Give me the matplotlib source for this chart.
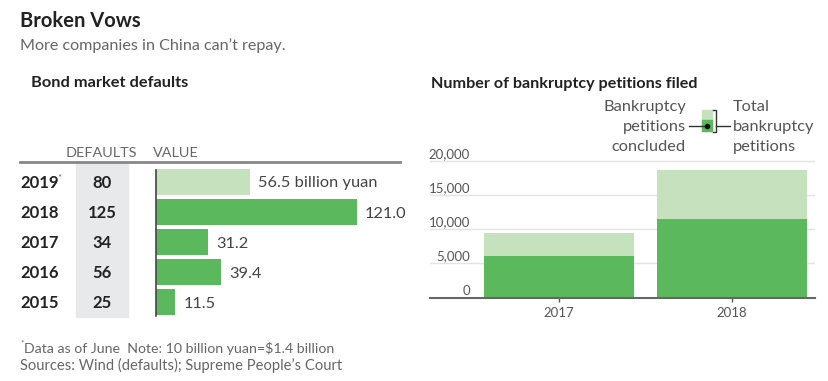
import matplotlib.pyplot as plt
import matplotlib.transforms as mtransforms
from matplotlib.lines import Line2D
from matplotlib.patches import Rectangle

plt.rcParams['font.family'] = ['Lato', 'DejaVu Sans']

# bond market defaults
years = ['2019', '2018', '2017', '2016', '2015']
defaults = [80, 125, 34, 56, 25]
values = [56.5, 121.0, 31.2, 39.4, 11.5]
value_labels = ['56.5 billion yuan', '121.0', '31.2', '39.4', '11.5']

# bankruptcy petitions
pet_years = ['2017', '2018']
pet_total = [9500, 18750]
pet_concluded = [6100, 11500]
pet_ticks = [0, 5000, 10000, 15000, 20000]

dark = '#5cb85c'
light = '#c5e1bd'
txt = '#222222'
grey = '#666666'

W, H = 829, 381
fig = plt.figure(figsize=(W / 100, H / 100), dpi=100)


def fx(x):
    return x / W


def fy(y):
    return 1 - y / H


# titles
fig.text(fx(20), fy(27), 'Broken Vows', fontsize=14.5, fontweight='bold', color=txt, va='baseline')
fig.text(fx(20), fy(50), 'More companies in China can\u2019t repay.', fontsize=11.6, color=grey, va='baseline')
fig.text(fx(31), fy(87), 'Bond market defaults', fontsize=11.8, fontweight='bold', color=txt, va='baseline')
fig.text(fx(431), fy(88), 'Number of bankruptcy petitions filed', fontsize=11.6, fontweight='bold', color=txt, va='baseline')

# ---- left: table + bars ----
ax1 = fig.add_axes([fx(156), fy(317), (405 - 156) / W, (317 - 164) / H])
rows = list(range(len(years)))
bar_colors = [light] + [dark] * (len(years) - 1)
ax1.barh(rows, values, height=0.87, color=bar_colors)
ax1.set_xlim(0, 150)
ax1.set_ylim(4.5, -0.6)
for s in ['top', 'right', 'bottom']:
    ax1.spines[s].set_visible(False)
ax1.spines['left'].set_bounds(-0.4, 4.45)
ax1.spines['left'].set_color('#444444')
ax1.spines['left'].set_linewidth(1.2)
ax1.set_xticks([])
ax1.set_yticks([])
ax1.patch.set_visible(False)

for i, (v, lbl) in enumerate(zip(values, value_labels)):
    ax1.annotate(lbl, (v, i), xytext=(6, 0), textcoords='offset points',
                 ha='left', va='center_baseline', fontsize=11.8, color='#444444')

# grey column behind defaults
fig.add_artist(Rectangle((fx(76), fy(317)), (128 - 76) / W, (317 - 162) / H,
                         transform=fig.transFigure, color='#e8e9eb', zorder=0))
fig.add_artist(Line2D([fx(20), fx(400)], [fy(162), fy(162)], transform=fig.transFigure,
                      color='#888888', lw=2))
fig.text(fx(101), fy(157), 'DEFAULTS', fontsize=10.4, color=grey, ha='center', va='baseline')
fig.text(fx(153), fy(157), 'VALUE', fontsize=10.4, color=grey, ha='left', va='baseline')

row_tr = mtransforms.blended_transform_factory(fig.transFigure, ax1.transData)
for i, (yr, d) in enumerate(zip(years, defaults)):
    fig.text(fx(20), i, yr, transform=row_tr, fontsize=12, fontweight='bold',
             color=txt, ha='left', va='center_baseline')
    fig.text(fx(102), i, str(d), transform=row_tr, fontsize=12, fontweight='bold',
             color=txt, ha='center', va='center_baseline')
fig.text(fx(57), fy(174), '*', fontsize=7, color=grey, ha='left', va='top')

# footnotes
fig.text(fx(20), fy(346), '*', fontsize=6, color=grey, va='baseline')
fig.text(fx(24), fy(353), 'Data as of June  Note: 10 billion yuan=$1.4 billion', fontsize=10.2,
         color=grey, va='baseline')
fig.text(fx(20), fy(370), 'Sources: Wind (defaults); Supreme People\u2019s Court', fontsize=10.6,
         color=grey, va='baseline')

# ---- right: petitions ----
ax2 = fig.add_axes([fx(430), fy(297.5), (815 - 430) / W, (297.5 - 157.6) / H])
xs = list(range(len(pet_years)))
ax2.bar(xs, pet_total, width=0.867, color=light, zorder=2)
ax2.bar(xs, pet_concluded, width=0.867, color=dark, zorder=3)
ax2.set_xlim(-0.746, 1.48)
ax2.set_ylim(0, 20500)
ax2.set_yticks(pet_ticks)
ax2.set_yticklabels([])
ax2.tick_params(axis='y', length=0)
ax2.grid(axis='y', color='#e4e4e4', lw=1, zorder=0)
ax2.set_axisbelow(True)
for s in ['top', 'right', 'left']:
    ax2.spines[s].set_visible(False)
ax2.spines['bottom'].set_color('#666666')
ax2.spines['bottom'].set_linewidth(1.5)
ax2.spines['bottom'].set_zorder(4)
ax2.set_xticks(xs, pet_years)
ax2.tick_params(axis='x', length=3, width=1, color='#555555', labelsize=9.5,
                labelcolor='#555555', pad=4)

lab_tr = mtransforms.blended_transform_factory(ax2.transAxes, ax2.transData)
for t in pet_ticks:
    ax2.annotate(f'{t:,}', (0.104, t), xycoords=lab_tr, xytext=(0, 5), textcoords='offset points',
                 ha='right', va='center', fontsize=9.5, color='#555555')

# legend
fig.add_artist(Rectangle((fx(702), fy(131)), 10 / W, 21 / H, transform=fig.transFigure,
                         color=light, zorder=2))
fig.add_artist(Rectangle((fx(702), fy(131)), 10 / W, 11 / H, transform=fig.transFigure,
                         color=dark, zorder=3))
fig.add_artist(Line2D([fx(689), fx(707)], [fy(126), fy(126)], transform=fig.transFigure,
                      color='#333333', lw=1, zorder=4))
fig.add_artist(Line2D([fx(707)], [fy(126)], transform=fig.transFigure, marker='o',
                      markersize=3, color='#111111', zorder=5))
fig.add_artist(Line2D([fx(713), fx(716), fx(716), fx(713)], [fy(110), fy(110), fy(132), fy(132)],
                      transform=fig.transFigure, color='#333333', lw=1))
fig.add_artist(Line2D([fx(716), fx(730)], [fy(126), fy(126)], transform=fig.transFigure,
                      color='#333333', lw=1))
for k, line in enumerate(['Bankruptcy', 'petitions', 'concluded']):
    fig.text(fx(686), fy(111 + 20 * k), line, fontsize=11.8, color='#555555', ha='right', va='baseline')
for k, line in enumerate(['Total', 'bankruptcy', 'petitions']):
    fig.text(fx(733), fy(111 + 20 * k), line, fontsize=11.8, color='#555555', ha='left', va='baseline')

fig.savefig('out.png', dpi=100)
